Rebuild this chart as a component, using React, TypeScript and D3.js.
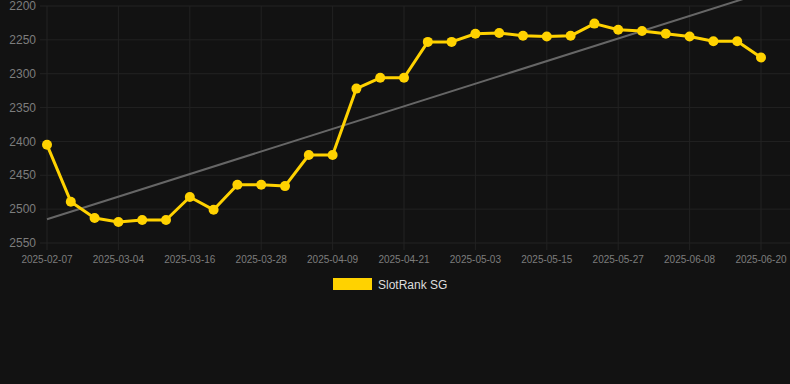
import React from "react";
import * as d3 from "d3";

const dates: string[] = [
  "2025-02-07", "2025-02-24", "2025-02-28", "2025-03-04", "2025-03-08", "2025-03-12",
  "2025-03-16", "2025-03-20", "2025-03-24", "2025-03-28", "2025-04-01", "2025-04-05",
  "2025-04-09", "2025-04-13", "2025-04-17", "2025-04-21", "2025-04-25", "2025-04-29",
  "2025-05-03", "2025-05-07", "2025-05-11", "2025-05-15", "2025-05-19", "2025-05-23",
  "2025-05-27", "2025-05-31", "2025-06-04", "2025-06-08", "2025-06-12", "2025-06-16",
  "2025-06-20",
];

const ranks: number[] = [
  2405, 2489, 2513, 2519, 2516, 2516, 2482, 2501, 2464, 2464, 2466, 2420, 2420,
  2322, 2306, 2306, 2253, 2253, 2241, 2240, 2244, 2245, 2244, 2226, 2235, 2237,
  2241, 2245, 2252, 2252, 2276,
];

const yTicks: number[] = [2200, 2250, 2300, 2350, 2400, 2450, 2500, 2550];
const xTickLabels: string[] = dates.filter((_, i) => i % 3 === 0);
const seriesName = "SlotRank SG";

const W = 790;
const H = 384;
const YELLOW = "#ffd200";

export default function App() {
  const x = d3.scalePoint<string>().domain(dates).range([47, 761]);
  const y = d3.scaleLinear().domain([2200, 2550]).range([6, 243]);

  const pts = dates.map((d, i) => ({ d, i, v: ranks[i] }));
  const line = d3
    .line<{ d: string; v: number }>()
    .x((p) => x(p.d)!)
    .y((p) => y(p.v));

  // linear regression trend
  const n = ranks.length;
  const mx = d3.mean(pts, (p) => p.i)!;
  const my = d3.mean(ranks)!;
  const sxy = d3.sum(pts, (p) => (p.i - mx) * (p.v - my));
  const sxx = d3.sum(pts, (p) => (p.i - mx) ** 2);
  const slope = sxy / sxx;
  const intercept = my - slope * mx;
  const t0 = intercept;
  const t1 = intercept + slope * (n - 1);

  const font = "Liberation Sans, Arial, Helvetica, sans-serif";

  return (
    <div style={{ position: "fixed", left: 0, top: 0, width: W, height: H }}>
      <svg width={W} height={H} style={{ display: "block" }}>
        <rect x={0} y={0} width={W} height={H} fill="#121212" />
        {yTicks.map((t) => (
          <g key={t}>
            <line x1={40} x2={W} y1={y(t)} y2={y(t)} stroke="#222" strokeWidth={1} />
            <text
              x={36}
              y={y(t)}
              dy="0.35em"
              textAnchor="end"
              fontSize={12}
              fontFamily={font}
              fill="#7d7d7d"
            >
              {t}
            </text>
          </g>
        ))}
        {xTickLabels.map((d) => (
          <g key={d}>
            <line x1={x(d)!} x2={x(d)!} y1={y(2200)} y2={y(2550) + 7} stroke="#222" strokeWidth={1} />
            <text
              x={x(d)!}
              y={263}
              textAnchor="middle"
              fontSize={10}
              fontFamily={font}
              fill="#7d7d7d"
            >
              {d}
            </text>
          </g>
        ))}
        <line
          x1={x(dates[0])!}
          y1={y(t0)}
          x2={x(dates[n - 1])!}
          y2={y(t1)}
          stroke="#666"
          strokeWidth={2}
        />
        <path d={line(pts) || ""} fill="none" stroke={YELLOW} strokeWidth={3} strokeLinejoin="round" />
        {pts.map((p) => (
          <circle key={p.d} cx={x(p.d)!} cy={y(p.v)} r={5} fill={YELLOW} />
        ))}
        <rect x={333} y={278} width={39} height={12} fill={YELLOW} />
        <text x={378} y={285} dy="0.35em" fontSize={12} fontFamily={font} fill="#dddddd">
          {seriesName}
        </text>
      </svg>
    </div>
  );
}
